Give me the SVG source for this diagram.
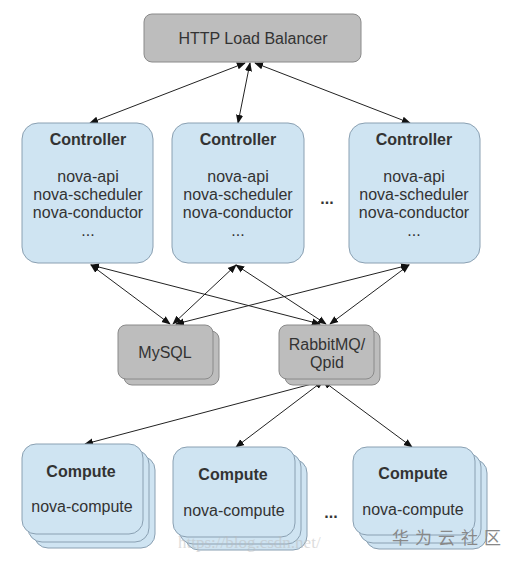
<svg xmlns="http://www.w3.org/2000/svg" width="513" height="562" viewBox="0 0 513 562">
<style>
.t{font-family:"Liberation Sans",Arial,sans-serif;fill:#333;text-anchor:middle;font-size:16px}
.b{font-weight:bold}
.blue{fill:#cfe4f2;stroke:#8aa0b2;stroke-width:1}
.gray{fill:#bdbdbd;stroke:#8a8a8a;stroke-width:1}
.c{stroke:#222;stroke-width:1;fill:none;marker-start:url(#a);marker-end:url(#a)}
</style>
<defs>
<marker id="a" viewBox="0 0 10 10" refX="9" refY="5" markerWidth="9" markerHeight="9" orient="auto-start-reverse" markerUnits="userSpaceOnUse">
<path d="M0,1 L10,5 L0,9 z" fill="#111"/>
</marker>
</defs>
<rect width="513" height="562" fill="#fff"/>
<g id="connectors">
<line class="c" x1="90" y1="123" x2="245" y2="63"/>
<line class="c" x1="238" y1="123" x2="250" y2="63"/>
<line class="c" x1="410" y1="123" x2="255" y2="63"/>
<line class="c" x1="91" y1="265" x2="170" y2="324"/>
<line class="c" x1="91" y1="265" x2="320" y2="324"/>
<line class="c" x1="236" y1="265" x2="173" y2="324"/>
<line class="c" x1="236" y1="265" x2="326" y2="324"/>
<line class="c" x1="409" y1="265" x2="176" y2="324"/>
<line class="c" x1="409" y1="265" x2="330" y2="324"/>
<line class="c" x1="323" y1="381" x2="85" y2="444"/>
<line class="c" x1="323" y1="381" x2="236" y2="447"/>
<line class="c" x1="323" y1="381" x2="412" y2="447"/>
</g>
<g id="lb">
<rect class="gray" x="144" y="14" width="217" height="48" rx="8"/>
<text class="t" x="253" y="44">HTTP Load Balancer</text>
</g>
<g id="controller1">
<rect class="blue" x="22" y="123" width="131" height="140" rx="16"/>
<text class="t b" x="88" y="145">Controller</text>
<text class="t" x="88" y="182">nova-api</text>
<text class="t" x="88" y="200">nova-scheduler</text>
<text class="t" x="88" y="218">nova-conductor</text>
<text class="t" x="88" y="236" font-size="12">...</text>
</g>
<g id="controller2">
<rect class="blue" x="172" y="123" width="132" height="140" rx="16"/>
<text class="t b" x="238" y="145">Controller</text>
<text class="t" x="238" y="182">nova-api</text>
<text class="t" x="238" y="200">nova-scheduler</text>
<text class="t" x="238" y="218">nova-conductor</text>
<text class="t" x="238" y="236" font-size="12">...</text>
</g>
<text class="t b" x="327" y="204" font-size="18">...</text>
<g id="controller3">
<rect class="blue" x="349" y="123" width="131" height="140" rx="16"/>
<text class="t b" x="414" y="145">Controller</text>
<text class="t" x="414" y="182">nova-api</text>
<text class="t" x="414" y="200">nova-scheduler</text>
<text class="t" x="414" y="218">nova-conductor</text>
<text class="t" x="414" y="236" font-size="12">...</text>
</g>
<g id="mysql">
<rect class="gray" x="124" y="331" width="95" height="54" rx="8"/>
<rect class="gray" x="118" y="325" width="95" height="54" rx="8"/>
<text class="t" x="165" y="358">MySQL</text>
</g>
<g id="rabbitmq">
<rect class="gray" x="285" y="331" width="95" height="54" rx="8"/>
<rect class="gray" x="279" y="325" width="95" height="54" rx="8"/>
<text class="t" x="327" y="350">RabbitMQ/</text>
<text class="t" x="327" y="368">Qpid</text>
</g>
<g id="compute1">
<rect class="blue" x="34" y="456" width="121" height="92" rx="14"/>
<rect class="blue" x="28" y="450" width="121" height="92" rx="14"/>
<rect class="blue" x="22" y="444" width="121" height="90" rx="14"/>
<text class="t b" x="81" y="477">Compute</text>
<text class="t" x="82" y="512">nova-compute</text>
</g>
<g id="compute2">
<rect class="blue" x="185" y="459" width="122" height="91" rx="14"/>
<rect class="blue" x="179" y="453" width="122" height="91" rx="14"/>
<rect class="blue" x="173" y="447" width="122" height="90" rx="14"/>
<text class="t b" x="233" y="480">Compute</text>
<text class="t" x="234" y="516">nova-compute</text>
</g>
<text class="t b" x="331" y="518" font-size="18">...</text>
<g id="compute3">
<rect class="blue" x="365" y="459" width="122" height="90" rx="14"/>
<rect class="blue" x="359" y="453" width="122" height="90" rx="14"/>
<rect class="blue" x="353" y="447" width="122" height="88" rx="14"/>
<text class="t b" x="413" y="479">Compute</text>
<text class="t" x="413" y="515">nova-compute</text>
</g>
<text x="178" y="548" font-family="'Liberation Serif',serif" font-size="17" fill="#bbb" opacity="0.5">https://blog.csdn.net/</text>
<text x="392" y="544" font-family="'Noto Sans CJK SC',sans-serif" font-size="17" fill="#888" letter-spacing="6">华为云社区</text>
</svg>
